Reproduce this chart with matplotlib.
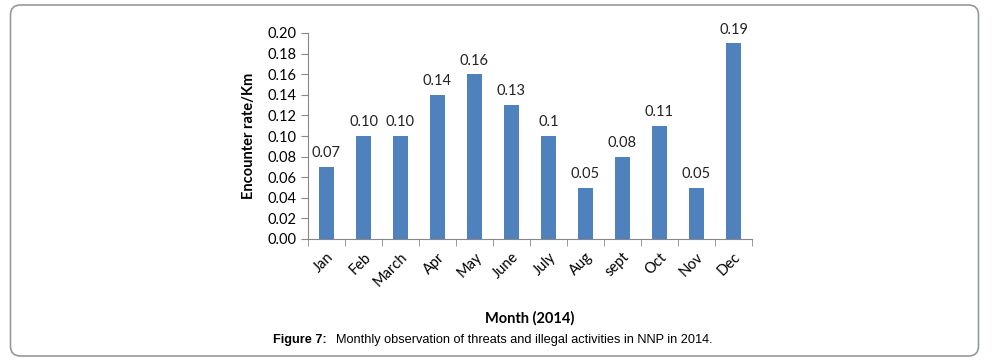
import matplotlib
matplotlib.use("Agg")
import matplotlib.pyplot as plt
from matplotlib.patches import FancyBboxPatch
import numpy as np

months = ["Jan", "Feb", "March", "Apr", "May", "June", "July", "Aug", "sept", "Oct", "Nov", "Dec"]
rates = [0.07, 0.10, 0.10, 0.14, 0.16, 0.13, 0.10, 0.05, 0.08, 0.11, 0.05, 0.19]
value_labels = ["0.07", "0.10", "0.10", "0.14", "0.16", "0.13", "0.1", "0.05", "0.08", "0.11", "0.05", "0.19"]
yticks = [0.00, 0.02, 0.04, 0.06, 0.08, 0.10, 0.12, 0.14, 0.16, 0.18, 0.20]

W, H = 995, 363
fig = plt.figure(figsize=(W / 100, H / 100), dpi=100)
font = "Lato"

# rounded border
box = FancyBboxPatch((10.5 / W, (H - 356) / H), 968 / W, 351 / H,
                     boxstyle="round,pad=0,rounding_size=0.01",
                     transform=fig.transFigure, fill=False,
                     edgecolor="#949a9a", linewidth=1.2, mutation_aspect=W / H)
fig.patches.append(box)

ax = fig.add_axes([308 / W, 1 - 239 / H, (752 - 308) / W, (239 - 33) / H])
x = np.arange(len(months))
ax.bar(x, rates, width=0.43, color="#4F81BD", zorder=2)
for xi, v, lab in zip(x, rates, value_labels):
    ax.text(xi, v + 0.0065, lab, ha="center", va="bottom", fontsize=10.5,
            family=font, color="#222222")

ax.set_xlim(-0.5, len(months) - 0.5)
ax.set_ylim(0, 0.20)
ax.set_yticks(yticks)
ax.set_yticklabels([f"{t:.2f}" for t in yticks], family=font, fontsize=10.5)
ax.set_xticks(x)
ax.set_xticklabels(months, rotation=45, ha="right", rotation_mode="anchor",
                   family=font, fontsize=10.5)
ax.tick_params(axis="x", which="major", length=0, pad=8)
ax.set_xticks(np.arange(-0.5, len(months) + 0.5, 1), minor=True)
ax.tick_params(axis="x", which="minor", length=5, color="#888888", direction="out")
ax.tick_params(axis="y", length=5, color="#888888", direction="out")
for s in ["top", "right"]:
    ax.spines[s].set_visible(False)
ax.spines["left"].set_color("#888888")
ax.spines["bottom"].set_color("#888888")

ax.set_ylabel("Encounter rate/Km", family=font, fontsize=10.5, fontweight="bold", labelpad=8)

fig.text(530 / W, 1 - 318 / H, "Month (2014)", ha="center", va="center",
         family=font, fontsize=10.5, fontweight="bold")
fig.text(273 / W, 1 - 340 / H, "Figure 7:", ha="left", va="center",
         family="Liberation Sans", fontsize=9.2, fontweight="bold")
fig.text(336 / W, 1 - 340 / H, "Monthly observation of threats and illegal activities in NNP in 2014.",
         ha="left", va="center", family="Liberation Sans", fontsize=9.2)

fig.savefig("out.png", dpi=100)
